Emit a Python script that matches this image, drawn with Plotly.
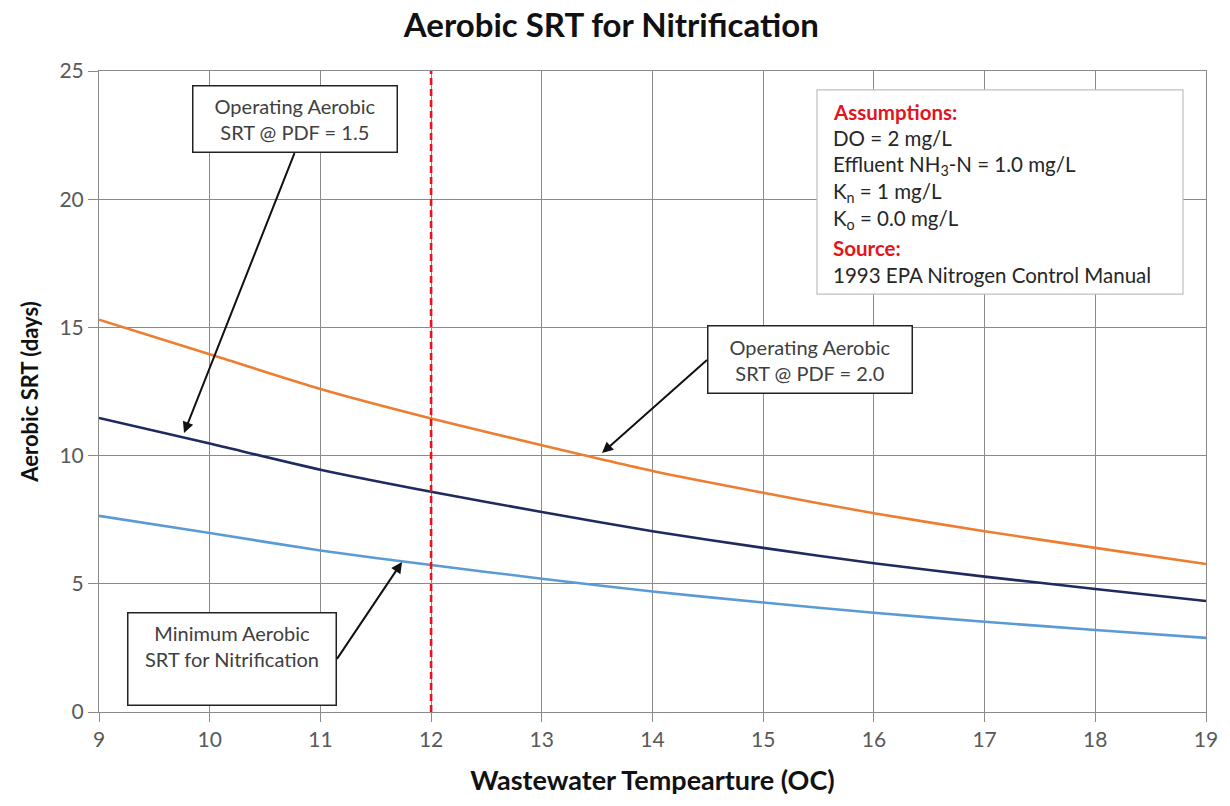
import plotly.graph_objects as go

# Wastewater temperature (deg C)
temperature = [9, 10, 11, 12, 13, 14, 15, 16, 17, 18, 19]

# Aerobic SRT (days) for each design case
srt_pdf_2_0 = [15.3, 13.95, 12.6, 11.45, 10.4, 9.4, 8.55, 7.75, 7.05, 6.4, 5.77]
srt_pdf_1_5 = [11.47, 10.47, 9.45, 8.59, 7.8, 7.05, 6.4, 5.8, 5.28, 4.8, 4.33]
srt_minimum = [7.65, 6.98, 6.3, 5.73, 5.2, 4.7, 4.27, 3.87, 3.52, 3.2, 2.89]

design_temperature = 12

x_ticks = [9, 10, 11, 12, 13, 14, 15, 16, 17, 18, 19]
y_ticks = [0, 5, 10, 15, 20, 25]

assumption_lines = [
    ("<b>Assumptions:</b>", "#e3141e"),
    ("DO = 2 mg/L", "#262626"),
    ("Effluent NH<sub>3</sub>-N = 1.0 mg/L", "#262626"),
    ("K<sub>n</sub> = 1 mg/L", "#262626"),
    ("K<sub>o</sub> = 0.0 mg/L", "#262626"),
    ("<b>Source:</b>", "#e3141e"),
    ("1993 EPA Nitrogen Control Manual", "#262626"),
]

FONT = "Lato"
GRID = "#8a8a8a"

fig = go.Figure()

series = [
    (srt_pdf_2_0, "#ed7d31", "Operating Aerobic SRT @ PDF = 2.0"),
    (srt_pdf_1_5, "#1f2a5e", "Operating Aerobic SRT @ PDF = 1.5"),
    (srt_minimum, "#5b9bd5", "Minimum Aerobic SRT for Nitrification"),
]
for values, color, name in series:
    fig.add_trace(go.Scatter(
        x=temperature, y=values, mode="lines", name=name,
        line=dict(color=color, width=2.6, shape="spline", smoothing=0.6),
        showlegend=False,
    ))

# Design temperature marker
fig.add_shape(type="line", xref="x", yref="y",
              x0=design_temperature, x1=design_temperature, y0=0, y1=25,
              line=dict(color="#e3141e", width=2.6, dash="7px,4px"))

# Callout boxes; each arrow leaves the box edge given by its anchor
callouts = [
    # text, arrow tail (box anchor point), anchors, box size (w, h), arrow head
    ("Operating Aerobic<br>SRT @ PDF = 1.5", (10.766, 21.80), ("center", "bottom"), (203, 65), (9.768, 10.88)),
    ("Operating Aerobic<br>SRT @ PDF = 2.0", (14.492, 13.73), ("left", "middle"), (203, 66), (13.544, 10.10)),
    ("Minimum Aerobic<br>SRT for Nitrification<br> ", (11.150, 2.07), ("right", "middle"), (207, 91), (11.737, 5.85)),
]
for text, (tx, ty), (xa, ya), (w, h), (hx, hy) in callouts:
    fig.add_annotation(
        x=hx, y=hy, ax=tx, ay=ty, xref="x", yref="y", axref="x", ayref="y",
        xanchor=xa, yanchor=ya, text=text, showarrow=True,
        arrowhead=2, arrowsize=1.1, arrowwidth=2, arrowcolor="#111111",
        standoff=0, startstandoff=0,
        width=w, height=h, align="center", valign="middle",
        bgcolor="white", bordercolor="#222222", borderwidth=1.5, borderpad=0,
        font=dict(family=FONT, size=20, color="#404040"),
    )

# Assumptions panel
fig.add_shape(type="rect", xref="x", yref="y",
              x0=15.486, x1=18.792, y0=16.30, y1=24.26,
              line=dict(color="#bfbfbf", width=1.2), fillcolor="white", layer="above")
line_y = [23.40, 22.39, 21.33, 20.28, 19.19, 18.10, 17.04]
for (text, color), yy in zip(assumption_lines, line_y):
    fig.add_annotation(
        x=15.612, y=yy, xref="x", yref="y", text=text, showarrow=False,
        xanchor="left", yanchor="middle",
        font=dict(family=FONT, size=20.5, color=color),
    )

fig.update_layout(
    width=1230, height=806,
    margin=dict(l=99, r=24, t=71, b=94),
    paper_bgcolor="white", plot_bgcolor="white",
    title=dict(text="<b>Aerobic SRT for Nitrification</b>", x=0.497, xanchor="center",
               y=0.968, yanchor="middle", yref="container",
               font=dict(family=FONT, size=33, color="#111111")),
    font=dict(family=FONT),
)
fig.update_xaxes(
    range=[9, 19], tickvals=x_ticks, showgrid=True, gridcolor=GRID, gridwidth=1,
    showline=True, linecolor=GRID, linewidth=1, mirror=True,
    ticks="outside", ticklen=9, tickcolor=GRID, zeroline=False,
    tickfont=dict(family=FONT, size=21, color="#595959"),
    title=dict(text="<b>Wastewater Tempearture (OC)</b>", standoff=20,
               font=dict(family=FONT, size=27, color="#111111")),
)
fig.update_yaxes(
    range=[0, 25], tickvals=y_ticks, showgrid=True, gridcolor=GRID, gridwidth=1,
    showline=True, linecolor=GRID, linewidth=1, mirror=True,
    ticks="outside", ticklen=10, tickcolor=GRID, zeroline=False,
    tickfont=dict(family=FONT, size=21, color="#595959"),
    title=dict(text="<b>Aerobic SRT (days)</b>", standoff=14,
               font=dict(family=FONT, size=22, color="#111111")),
)

fig.write_html("out.html")
